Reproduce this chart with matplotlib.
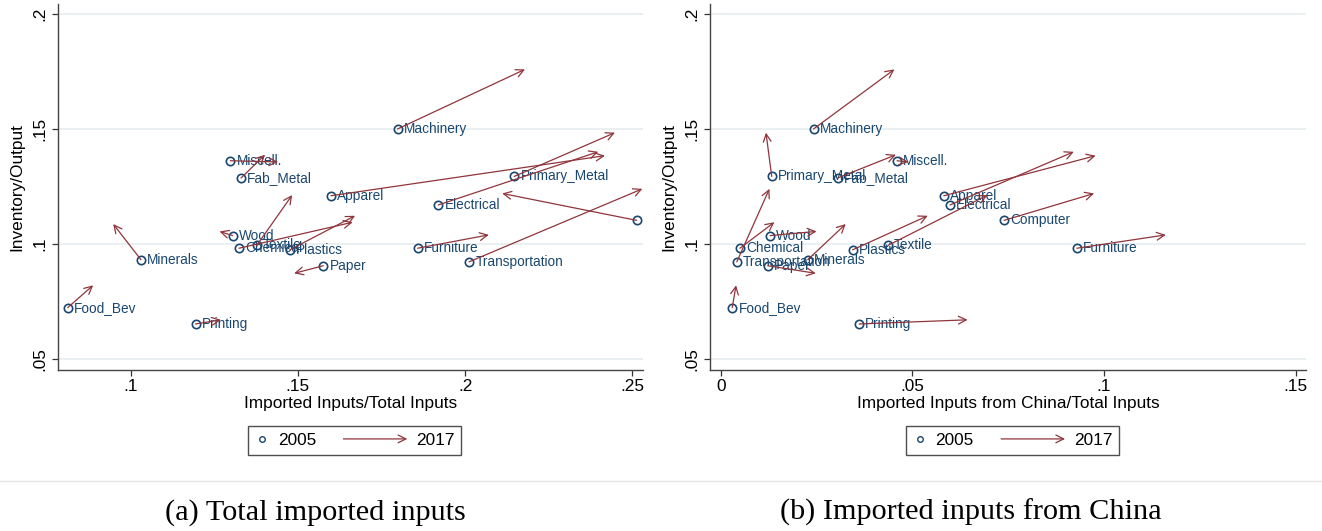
import matplotlib
matplotlib.use('Agg')
import matplotlib.pyplot as plt
from matplotlib.lines import Line2D
from matplotlib.patches import FancyArrowPatch
from matplotlib.legend_handler import HandlerBase

plt.rcParams['font.family'] = ['Liberation Sans', 'DejaVu Sans']

industries = ['Food_Bev', 'Minerals', 'Printing', 'Miscell.', 'Wood', 'Chemical',
              'Fab_Metal', 'Textile', 'Plastics', 'Paper', 'Apparel', 'Machinery',
              'Furniture', 'Electrical', 'Transportation', 'Primary_Metal', 'Computer']

# inventory / output ratio
inv_2005 = [.0724, .0932, .0653, .1362, .1037, .0982, .1287, .0994, .0975, .0906,
            .1210, .1500, .0982, .1170, .0923, .1294, .1103]
inv_2017 = [.0821, .1087, .0671, .1357, .1055, .1095, .1388, .1213, .1123, .0873,
            .1384, .1759, .1040, .1401, .1240, .1484, .1220]

# imported inputs / total inputs
imp_2005 = [.0812, .1031, .1194, .1298, .1305, .1324, .1330, .1377, .1476, .1576,
            .1599, .1798, .1858, .1920, .2012, .2147, .2513]
imp_2017 = [.0888, .0948, .1270, .1441, .1266, .1664, .1402, .1483, .1671, .1489,
            .2418, .2179, .2071, .2398, .2530, .2448, .2111]

# imported inputs from China / total inputs
china_2005 = [.0030, .0227, .0361, .0460, .0129, .0050, .0305, .0436, .0344, .0123,
              .0582, .0242, .0929, .0598, .0042, .0133, .0739]
china_2017 = [.0040, .0326, .0644, .0489, .0250, .0140, .0457, .0696, .0540, .0248,
              .0978, .0453, .1161, .0921, .0127, .0118, .0974]

y_ticks = [.05, .1, .15, .2]
y_ticklabels = ['.05', '.1', '.15', '.2']
left_xticks = [.1, .15, .2, .25]
left_xticklabels = ['.1', '.15', '.2', '.25']
right_xticks = [0, .05, .1, .15]
right_xticklabels = ['0', '.05', '.1', '.15']

navy = '#1a476f'
maroon = '#90353b'
grid_c = '#e8eff1'


class ArrowHandler(HandlerBase):
    def create_artists(self, legend, orig_handle, xdescent, ydescent,
                       width, height, fontsize, trans):
        y = height / 2 - ydescent
        arr = FancyArrowPatch((width - xdescent - 46, y), (width - xdescent, y),
                              arrowstyle='->', mutation_scale=14, color=maroon,
                              lw=0.9, transform=trans, shrinkA=0, shrinkB=0)
        return [arr]


def panel(ax, x05, x17, xlim, xticks, xticklabels, xlabel):
    ax.set_xlim(*xlim)
    ax.set_ylim(.0453, .2043)
    for y in y_ticks:
        ax.axhline(y, color=grid_c, lw=1.3, zorder=0)
    ax.plot(x05, inv_2005, 'o', ms=6, mfc='none', mec=navy, mew=1.2, zorder=3)
    for name, xa, ya in zip(industries, x05, inv_2005):
        ax.annotate(name, (xa, ya), xytext=(4.5, 0), textcoords='offset points',
                    va='center', ha='left', fontsize=9.8, color=navy,
                    clip_on=True, zorder=2)
    for xa, ya, xb, yb in zip(x05, inv_2005, x17, inv_2017):
        ax.annotate('', xy=(xb, yb), xytext=(xa, ya),
                    arrowprops=dict(arrowstyle='->', color=maroon, lw=0.9,
                                    mutation_scale=14, shrinkA=0, shrinkB=0),
                    zorder=4)
    ax.set_xticks(xticks)
    ax.set_xticklabels(xticklabels)
    ax.set_yticks(y_ticks)
    ax.set_yticklabels(y_ticklabels)
    ax.tick_params(axis='both', labelsize=12.4, length=4.3, width=0.9,
                   color='#333333', pad=2.5)
    ax.tick_params(axis='y', labelrotation=90, pad=3)
    for lab in ax.get_yticklabels():
        lab.set_verticalalignment('center')
    for s in ['top', 'right']:
        ax.spines[s].set_visible(False)
    for s in ['left', 'bottom']:
        ax.spines[s].set_color('#444444')
        ax.spines[s].set_linewidth(1.0)
    ax.set_xlabel(xlabel, fontsize=12.4)
    ax.xaxis.set_label_coords(0.5, -0.072)
    ax.set_ylabel('Inventory/Output', fontsize=12.4)
    ax.yaxis.set_label_coords(-0.057, 0.5)

    h1 = Line2D([], [], ls='none', marker='o', ms=4, mfc='none', mec=navy, mew=1.0)
    h2 = FancyArrowPatch((0, 0), (1, 0))
    leg = ax.legend([h1, h2], ['2005', '2017'], ncol=2, loc='upper center',
                    bbox_to_anchor=(0.508, -0.153), borderaxespad=0,
                    fontsize=12.4, frameon=True,
                    fancybox=False, edgecolor='#222222', handlelength=0.8,
                    handletextpad=0.5, columnspacing=4.5, borderpad=0.4,
                    handler_map={FancyArrowPatch: ArrowHandler()})
    leg.get_frame().set_linewidth(1.0)


fig = plt.figure(figsize=(13.22, 5.31), dpi=100)
ax1 = fig.add_axes([57.7 / 1322, 1 - 370 / 531, 585 / 1322, 366 / 531])
ax2 = fig.add_axes([710 / 1322, 1 - 370 / 531, 595.7 / 1322, 366 / 531])

panel(ax1, imp_2005, imp_2017, (.0782, .2531), left_xticks, left_xticklabels,
      'Imported Inputs/Total Inputs')
panel(ax2, china_2005, china_2017, (-.0028, .1526), right_xticks, right_xticklabels,
      'Imported Inputs from China/Total Inputs')

fig.add_artist(Line2D([0, 1], [1 - 480.7 / 531] * 2, transform=fig.transFigure,
                      color='#e4e4e4', lw=1.0))
fig.text(315.5 / 1322, 1 - 519.3 / 531, '(a) Total imported inputs', ha='center',
         va='baseline', fontsize=21.8, family=['Liberation Serif', 'DejaVu Serif'])
fig.text(970.5 / 1322, 1 - 519.3 / 531, '(b) Imported inputs from China', ha='center',
         va='baseline', fontsize=21.8, family=['Liberation Serif', 'DejaVu Serif'])

fig.savefig('out.png', dpi=100)
